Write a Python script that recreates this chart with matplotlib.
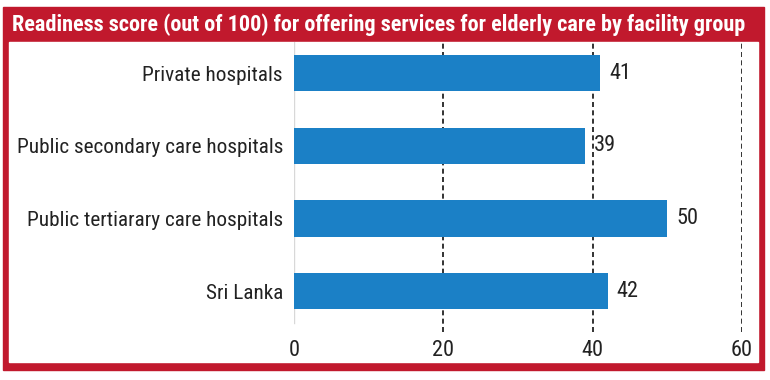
import matplotlib
matplotlib.use("Agg")
import matplotlib.pyplot as plt
from matplotlib.patches import Rectangle

categories = ["Private hospitals", "Public secondary care hospitals",
              "Public tertiarary care hospitals", "Sri Lanka"]
values = [41, 39, 50, 42]
ticks = [0, 20, 40, 60]
title = "Readiness score (out of 100) for offering services for elderly care by facility group"

FONT = ["Roboto Condensed", "DejaVu Sans"]
plt.rcParams["font.family"] = FONT

W, H = 770, 380
fig = plt.figure(figsize=(W / 100, H / 100), dpi=100)

RED = "#c1192d"
BLUE = "#1b80c6"

def px(x0, y0, x1, y1):
    return (x0 / W, 1 - y1 / H, (x1 - x0) / W, (y1 - y0) / H)

# frame
l, b, w, h = px(3, 7, 764, 370)
fig.patches.append(Rectangle((l, b), w, h, transform=fig.transFigure, color=RED, zorder=0))
l, b, w, h = px(9, 42, 758, 362)
fig.patches.append(Rectangle((l, b), w, h, transform=fig.transFigure, color="white", zorder=0))

fig.text(12 / W, 1 - 25 / H, title, color="white", fontsize=16, fontweight="bold",
         va="center", ha="left", zorder=5)

ax = fig.add_axes(px(294, 42, 742, 332))
ax.set_zorder(3)
ax.set_facecolor("none")
ypos = list(range(len(categories)))
ax.barh(ypos, values, height=0.5, color=BLUE, zorder=3)
for y, v in zip(ypos, values):
    ax.text(v + 1.2, y, str(v), va="center", ha="left", fontsize=16, color="#222222")

ax.set_xlim(0, 60)
ax.set_ylim(3.56, -0.43)
ax.set_yticks(ypos)
ax.set_yticklabels(categories, fontsize=15.3, color="#222222")
ax.set_xticks(ticks)
ax.set_xticklabels([str(t) for t in ticks], fontsize=16, color="#222222")
ax.tick_params(length=0, pad=6)
ax.tick_params(axis="y", pad=8)
for s in ax.spines.values():
    s.set_visible(False)
for t in ticks[1:]:
    ax.axvline(t, color="#111111", linestyle=(0, (3, 2)), linewidth=1.2, zorder=2)
ax.axvline(0, ymin=0.03, color="#d8d8d8", linewidth=1, zorder=2)

fig.savefig("out.png", dpi=100)
